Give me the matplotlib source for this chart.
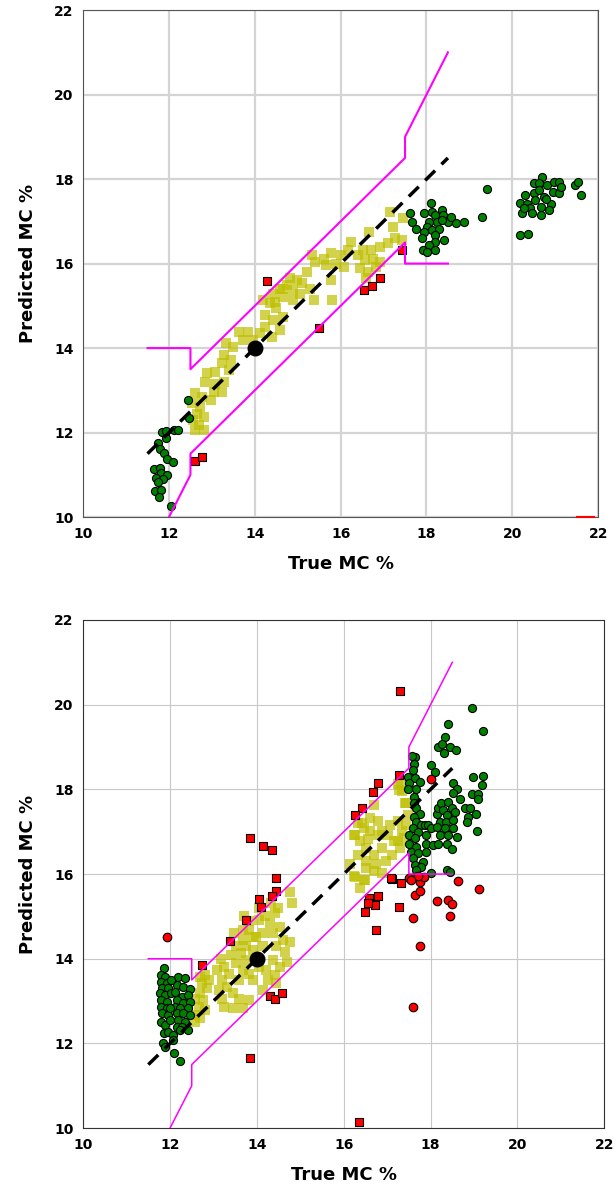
import matplotlib
matplotlib.use("Agg")
import matplotlib.pyplot as plt

# acceptance band and 1:1 line
upper_x = [11.5, 12.5, 12.5, 17.5, 17.5, 18.5]
upper_y = [14, 14, 13.5, 18.5, 19, 21]
lower_x = [12, 12.5, 12.5, 17.5, 17.5, 18.5]
lower_y = [10, 11, 11.5, 16.5, 16, 16]
ref_x = [11.5, 18.5]
ref_y = [11.5, 18.5]
target = (14, 14)

# ---- top panel ----
top_yellow_x = [17.15, 17.46, 17.23, 16.67, 16.24, 16.16, 16.0, 15.77, 15.61, 15.33, 15.41, 15.65, 15.89, 16.08,
                16.52, 16.71, 16.91, 17.11, 17.27, 17.42, 16.56, 16.75, 16.44, 16.64, 16.83, 16.91, 16.4, 16.6,
                15.22, 14.98, 14.74, 14.58, 14.43, 14.66, 14.9, 15.1, 15.29, 15.37, 15.81, 15.77, 14.35, 14.5,
                14.23, 14.43, 14.66, 14.58, 14.39, 14.23, 14.11, 13.83, 13.64, 13.72, 13.95, 13.32, 13.48, 13.28,
                13.44, 13.24, 13.4, 13.08, 12.89, 12.85, 13.08, 13.28, 13.24, 13.05, 12.97, 12.61, 12.77, 12.53,
                12.73, 12.65, 12.81, 12.57, 12.69, 12.81, 12.61, 14.19, 14.82, 14.9, 14.47, 15.06, 14.66]
top_yellow_y = [17.23, 17.07, 16.87, 16.75, 16.52, 16.32, 16.2, 16.24, 16.12, 16.2, 16.04, 15.96, 16.0, 15.93,
                16.32, 16.32, 16.4, 16.48, 16.6, 16.56, 16.08, 16.12, 15.89, 15.81, 15.93, 16.04, 16.2, 15.65,
                15.81, 15.61, 15.49, 15.41, 15.29, 15.22, 15.37, 15.53, 15.41, 15.14, 15.14, 15.61, 15.06, 14.94,
                14.78, 14.66, 14.74, 14.43, 14.27, 14.5, 14.35, 14.39, 14.39, 14.19, 14.19, 14.11, 14.03, 13.84,
                13.72, 13.64, 13.48, 13.44, 13.4, 13.2, 13.16, 13.2, 12.97, 12.97, 12.77, 12.93, 12.85, 12.69,
                12.61, 12.45, 12.38, 12.3, 12.18, 12.06, 12.06, 15.14, 15.65, 15.14, 15.1, 15.29, 15.41]

top_green_x = [12.44, 12.47, 11.84, 11.94, 12.12, 12.2, 11.94, 11.74, 11.8, 11.88, 11.96, 12.1, 11.65, 11.78,
               11.82, 11.96, 11.7, 11.86, 11.74, 11.68, 11.82, 11.76, 12.04,
               17.62, 17.66, 17.76, 17.94, 18.1, 18.13, 18.2, 18.37, 18.39, 18.25, 18.06, 18.02, 17.94, 17.9,
               18.13, 18.29, 18.49, 18.69, 18.88, 18.21, 18.41, 18.21, 18.06, 17.91, 18.2, 18.02, 18.37, 18.57,
               19.29, 19.4,
               20.19, 20.3, 20.5, 20.5, 20.7, 20.62, 20.82, 20.97, 21.09, 20.94, 21.09, 20.74, 20.54, 20.34,
               20.42, 20.66, 20.9, 20.86, 20.66, 20.46, 20.23, 20.27, 20.78, 21.45, 21.53, 21.61, 20.17, 20.36,
               21.13, 20.62]
top_green_y = [12.77, 12.35, 12.02, 12.04, 12.07, 12.05, 11.86, 11.76, 11.62, 11.52, 11.37, 11.31, 11.13, 11.15,
               11.05, 10.99, 10.92, 10.89, 10.84, 10.62, 10.63, 10.48, 10.26,
               17.19, 16.99, 16.83, 17.19, 17.44, 17.23, 17.15, 17.28, 17.15, 16.99, 16.99, 16.87, 16.75, 16.6,
               16.79, 16.83, 16.99, 16.95, 16.99, 16.67, 16.57, 16.52, 16.44, 16.32, 16.32, 16.28, 17.03, 17.11,
               17.11, 17.76,
               17.44, 17.62, 17.66, 17.9, 18.06, 17.9, 17.86, 17.94, 17.94, 17.7, 17.66, 17.58, 17.5, 17.42,
               17.31, 17.35, 17.42, 17.28, 17.15, 17.19, 17.19, 17.31, 17.54, 17.86, 17.94, 17.62, 16.67, 16.71,
               17.82, 17.74]

top_red_sq_x = [12.61, 12.78, 14.28, 15.5, 16.54, 16.73, 16.92, 17.42]
top_red_sq_y = [11.33, 11.41, 15.59, 14.47, 15.37, 15.47, 15.66, 16.32]

# short red stroke on the bottom edge, top panel
top_red_edge_x = [21.5, 21.9]
top_red_edge_y = [10.0, 10.0]

# ---- bottom panel ----
bot_yellow_x = [14.76, 14.8, 14.49, 14.41, 14.3, 14.06, 13.83, 13.91, 14.14, 14.37, 14.53, 14.61, 14.76, 14.45,
                14.65, 14.69, 14.53, 14.37, 14.22, 14.41, 14.26, 14.14, 13.75, 13.67, 13.63, 13.91, 13.75, 13.52,
                13.67, 13.83, 13.91, 13.59, 13.36, 13.24, 13.2, 13.32, 13.44, 13.2, 13.24, 13.44, 13.67, 13.83,
                13.59, 14.06, 14.14, 13.98, 13.71, 14.06, 14.33, 14.18, 12.7, 12.81, 12.74, 12.85, 12.7, 12.58,
                12.77, 12.66, 12.81, 12.58, 12.7, 12.58, 12.89, 13.13, 13.09, 13.17, 13.4, 13.52, 13.48, 13.67,
                13.83, 14.45,
                17.25, 17.35, 17.44, 16.7, 17.48, 16.34, 16.47, 16.61, 16.24, 16.38, 16.57, 16.8, 16.89, 17.07,
                17.25, 17.35, 17.16, 17.3, 17.12, 16.89, 16.7, 16.52, 16.34, 16.52, 16.75, 16.98, 16.7, 16.89,
                16.52, 16.15, 16.24, 16.47, 16.38, 17.25, 17.39, 17.44, 17.02, 16.8, 16.61, 16.43, 17.32, 17.28,
                17.4, 16.27, 16.27, 16.5]
bot_yellow_y = [15.58, 15.32, 15.19, 15.07, 14.84, 14.91, 14.68, 14.52, 14.6, 14.6, 14.76, 14.44, 14.4, 14.29,
                14.17, 13.93, 13.81, 13.97, 13.73, 13.61, 13.5, 13.26, 14.29, 14.44, 14.13, 14.21, 13.97, 13.89,
                13.73, 13.65, 13.5, 13.5, 13.65, 13.81, 13.5, 13.34, 13.18, 13.06, 12.87, 12.83, 12.83, 13.02,
                13.06, 13.81, 14.29, 14.52, 15.0, 15.19, 15.31, 15.0, 13.58, 13.61, 13.42, 13.3, 13.18, 13.06,
                13.02, 12.87, 12.79, 12.67, 12.59, 12.51, 13.5, 13.26, 13.73, 14.0, 14.09, 14.29, 14.6, 14.68,
                14.88, 13.42,
                18.13, 17.95, 17.68, 17.62, 17.4, 17.21, 17.09, 17.01, 16.93, 16.78, 16.82, 16.93, 17.01, 17.17,
                17.25, 17.01, 16.78, 16.62, 16.46, 16.62, 16.46, 16.62, 16.46, 16.3, 16.23, 16.3, 16.07, 16.03,
                16.15, 16.23, 15.95, 15.87, 15.68, 16.78, 16.85, 17.17, 16.93, 17.25, 17.33, 17.21, 18.14, 17.98,
                17.67, 16.92, 15.94, 15.86]

bot_green_x = [11.86, 11.8, 11.89, 11.79, 11.92, 11.82, 11.96, 11.76, 11.88, 12.02, 11.8, 11.94, 11.79, 11.92,
               11.82, 11.96, 11.79, 11.89, 12.0, 11.86, 11.96, 12.07, 11.84, 11.89, 12.07, 12.09, 12.23, 12.19,
               12.35, 12.15, 12.31, 12.46, 12.11, 12.27, 12.42, 12.15, 12.31, 12.46, 12.11, 12.23, 12.42, 12.15,
               12.31, 12.46, 12.19, 12.35, 12.15, 12.27, 12.42, 12.0, 12.03, 12.23,
               18.95, 18.39, 19.21, 18.33, 18.17, 18.27, 18.45, 18.59, 18.31, 17.63, 17.61, 17.59, 18.02, 18.1,
               17.48, 17.63, 17.75, 17.51, 17.67, 18.52, 18.6, 18.98, 19.2, 19.19, 18.52, 18.68, 18.95, 19.1,
               19.1, 17.61, 17.61, 17.67, 17.75, 17.61, 17.67, 17.79, 17.59, 17.71, 17.51, 17.63, 17.51, 17.67,
               17.55, 17.71, 17.59, 17.83, 17.63, 17.79, 17.67, 17.86, 17.94, 17.9, 18.02, 17.9, 18.06, 17.9,
               18.14, 18.17, 18.25, 18.41, 18.29, 18.49, 18.56, 18.37, 18.21, 18.35, 18.52, 18.14, 18.33, 18.52,
               18.21, 18.41, 18.6, 18.37, 18.49, 18.17, 18.8, 18.9, 18.87, 18.83, 19.05, 19.08, 18.37, 18.45,
               18.02, 17.48, 17.58]
bot_green_y = [13.79, 13.61, 13.58, 13.46, 13.42, 13.3, 13.3, 13.18, 13.14, 13.18, 13.02, 12.98, 12.87, 12.83,
               12.71, 12.67, 12.51, 12.43, 12.55, 12.24, 12.28, 12.2, 12.0, 11.92, 12.08, 11.78, 11.58, 13.58,
               13.54, 13.38, 13.34, 13.28, 13.22, 13.1, 13.14, 13.02, 12.95, 12.98, 12.87, 12.83, 12.83, 12.71,
               12.71, 12.67, 12.55, 12.51, 12.39, 12.39, 12.32, 12.83, 13.5, 12.32,
               19.91, 19.54, 19.39, 19.24, 19.0, 19.06, 19.0, 18.92, 18.87, 18.77, 18.61, 18.45, 18.57, 18.41,
               18.29, 18.26, 18.18, 18.14, 18.02, 18.14, 18.02, 18.29, 18.31, 18.11, 17.91, 17.78, 17.88, 17.9,
               17.78, 17.82, 17.67, 17.55, 17.43, 17.35, 17.23, 17.16, 17.08, 17.0, 16.92, 16.84, 16.72, 16.64,
               16.53, 16.49, 16.37, 16.29, 16.21, 16.17, 16.09, 17.16, 17.16, 16.92, 17.08, 16.72, 16.68, 16.51,
               17.43, 17.55, 17.67, 17.71, 17.51, 17.55, 17.47, 17.39, 17.23, 17.23, 17.27, 17.11, 17.08, 17.08,
               16.92, 16.92, 16.88, 16.72, 16.6, 16.72, 17.55, 17.55, 17.35, 17.23, 17.43, 17.01, 16.09, 16.05,
               16.02, 18.02, 18.79]

bot_red_sq_x = [17.3, 17.28, 16.8, 16.68, 16.43, 16.25, 17.11, 17.32, 16.58, 16.8, 16.72, 16.49, 17.28, 16.75,
                16.35, 13.84, 14.15, 14.34, 14.45, 14.45, 14.04, 14.34, 14.09, 13.75, 13.38, 12.74, 14.3, 14.41,
                14.59, 13.84, 16.57, 17.08]
bot_red_sq_y = [20.32, 18.35, 18.14, 17.93, 17.55, 17.4, 15.88, 15.8, 15.44, 15.49, 15.26, 15.11, 15.22, 14.69,
                10.14, 16.84, 16.67, 16.56, 15.91, 15.6, 15.41, 15.47, 15.22, 14.91, 14.42, 13.85, 13.12, 13.06,
                13.2, 11.65, 15.32, 15.91]

bot_red_ci_x = [11.93, 17.51, 17.63, 17.75, 17.84, 17.63, 17.75, 18.15, 18.39, 18.5, 18.45, 18.62, 19.11, 17.59,
                17.76, 17.59, 18.0, 17.7, 17.55]
bot_red_ci_y = [14.51, 15.91, 15.92, 15.81, 15.92, 15.51, 15.61, 15.37, 15.38, 15.29, 15.02, 15.84, 15.64, 14.97,
                14.31, 12.85, 18.25, 15.95, 15.85]

fig = plt.figure(figsize=(6.16, 11.9), dpi=100)
ax1 = fig.add_axes([0.135, 0.5655, 0.836, 0.426])
ax2 = fig.add_axes([0.135, 0.052, 0.846, 0.427])


def draw(ax, yx, yy, gx, gy, rsx, rsy, rcx=None, rcy=None, grid_lw=0.8, grid_c='#c8c8c8',
         spine_c='#333333', band_lw=1.2):
    ax.scatter(yx, yy, marker='s', s=42, color='y', alpha=0.7, linewidths=0, zorder=2)
    ax.scatter(gx, gy, marker='o', s=34, color='green', edgecolors='black', linewidths=0.8, zorder=3)
    ax.scatter(rsx, rsy, marker='s', s=34, color='red', edgecolors='black', linewidths=0.8, zorder=3)
    if rcx is not None:
        ax.scatter(rcx, rcy, marker='o', s=38, color='red', edgecolors='black', linewidths=0.8, zorder=3)
    ax.plot(upper_x, upper_y, color='magenta', lw=band_lw, zorder=4)
    ax.plot(lower_x, lower_y, color='magenta', lw=band_lw, zorder=4)
    ax.plot(ref_x, ref_y, color='black', lw=2.5, ls=(0, (4, 2.6)), zorder=5)
    ax.scatter([target[0]], [target[1]], s=110, color='black', zorder=6)
    ax.set_xlim(10, 22)
    ax.set_ylim(10, 22)
    ax.set_xticks([10, 12, 14, 16, 18, 20, 22])
    ax.set_yticks([10, 12, 14, 16, 18, 20, 22])
    ax.grid(True, color=grid_c, lw=grid_lw)
    ax.set_axisbelow(True)
    ax.tick_params(length=0, pad=7, labelsize=10)
    for lab in ax.get_xticklabels() + ax.get_yticklabels():
        lab.set_fontweight('bold')
    for sp in ax.spines.values():
        sp.set_color(spine_c)
    ax.set_xlabel('True MC %', fontsize=13, fontweight='bold', labelpad=10)
    ax.set_ylabel('Predicted MC %', fontsize=13, fontweight='bold', labelpad=12)


draw(ax1, top_yellow_x, top_yellow_y, top_green_x, top_green_y, top_red_sq_x, top_red_sq_y,
     grid_lw=1.6, grid_c='#d4d4d4', spine_c='#555555', band_lw=1.5)
ax1.plot(top_red_edge_x, top_red_edge_y, color='red', lw=1.5, zorder=4, clip_on=False)
draw(ax2, bot_yellow_x, bot_yellow_y, bot_green_x, bot_green_y, bot_red_sq_x, bot_red_sq_y,
     bot_red_ci_x, bot_red_ci_y, band_lw=1.1)

plt.savefig('out.png', dpi=100)
